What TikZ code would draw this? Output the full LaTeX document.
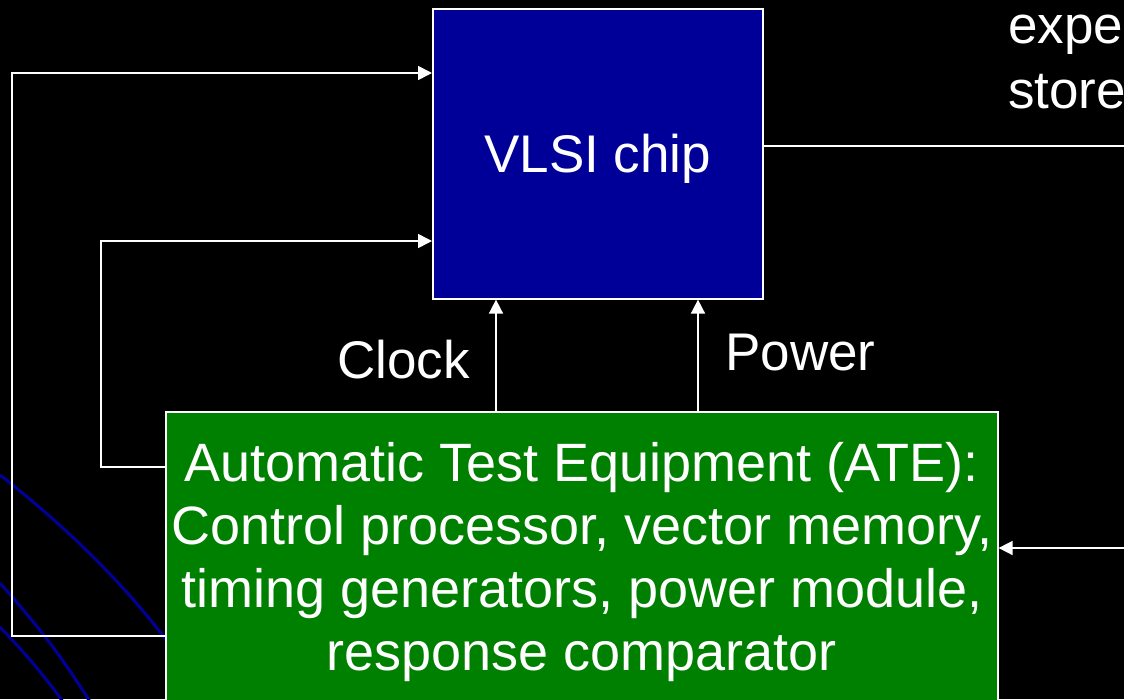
\documentclass[tikz,border=0pt]{standalone}
\usepackage{fontspec}
\setmainfont{Liberation Sans}
\usetikzlibrary{arrows.meta}
\definecolor{chip-blue}{HTML}{000099}
\definecolor{ate-green}{HTML}{008000}
\definecolor{swoosh}{HTML}{000099}

\begin{document}
\begin{tikzpicture}[x=1pt, y=-1pt,
    every node/.style={font=\fontsize{53}{63}\selectfont, text=white, inner sep=0pt},
    sig/.style={draw=white, line width=1.6pt, -{Triangle[length=14pt, width=14pt]}},
    wire/.style={draw=white, line width=1.6pt}]
    \fill[black] (0,0) rectangle (1124,699);
    \useasboundingbox (0,0) rectangle (1124,699);
    \clip (0,0) rectangle (1124,699);
    % swooshes behind everything
    \draw[swoosh, line width=3pt] (0,475) .. controls (60,522) and (120,578) .. (170,645);
    \draw[swoosh, line width=3pt] (0,583) .. controls (30,617) and (60,652) .. (95,710);
    \draw[swoosh, line width=3pt] (0,627) .. controls (20,648) and (45,675) .. (70,712);
    % the two boxes
    \node[draw=white, line width=1.6pt, fill=chip-blue, minimum width=330pt,
      minimum height=290pt, anchor=north west, text height=38pt, text depth=0pt]
      (chip) at (432,8) {VLSI chip};
    \node[draw=white, line width=1.6pt, fill=ate-green, minimum width=832pt,
      minimum height=300pt, anchor=north west, align=center,
      font=\fontsize{54}{63}\selectfont]
      (ate) at (165,411) {Automatic Test Equipment (ATE):\\
        Control processor, vector memory,\\
        timing generators, power module,\\
        response comparator};
    % clock and power
    \coordinate (clkin) at ([xshift=64pt]chip.south west);
    \coordinate (pwrin) at ([xshift=266pt]chip.south west);
    \draw[sig] (ate.north -| clkin) -- (clkin);
    \draw[sig] (ate.north -| pwrin) -- (pwrin);
    \node[anchor=base east] (clklbl) at (470,378) {Clock};
    \node[anchor=base west] (pwrlbl) at (725,370) {Power};
    % stimulus loops
    \coordinate (outer) at (12,636);
    \coordinate (outtop) at (12,73);
    \coordinate (inner) at (101,467);
    \coordinate (intop) at (101,241);
    \draw[sig] (outer -| ate.west) -- (outer) -- (outtop) -- (outtop -| chip.west);
    \draw[sig] (inner -| ate.west) -- (inner) -- (intop) -- (intop -| chip.west);
    % response path
    \coordinate (resp) at (1130,146);
    \coordinate (cmp) at (1130,548);
    \draw[wire] (resp -| chip.east) -- (resp);
    \draw[sig] (cmp) -- (cmp -| ate.east);
    \node[anchor=base west] (expe) at (1008,43) {expe};
    \node[anchor=base west] (store) at (1008,108) {store};
  \end{tikzpicture}
\end{document}
